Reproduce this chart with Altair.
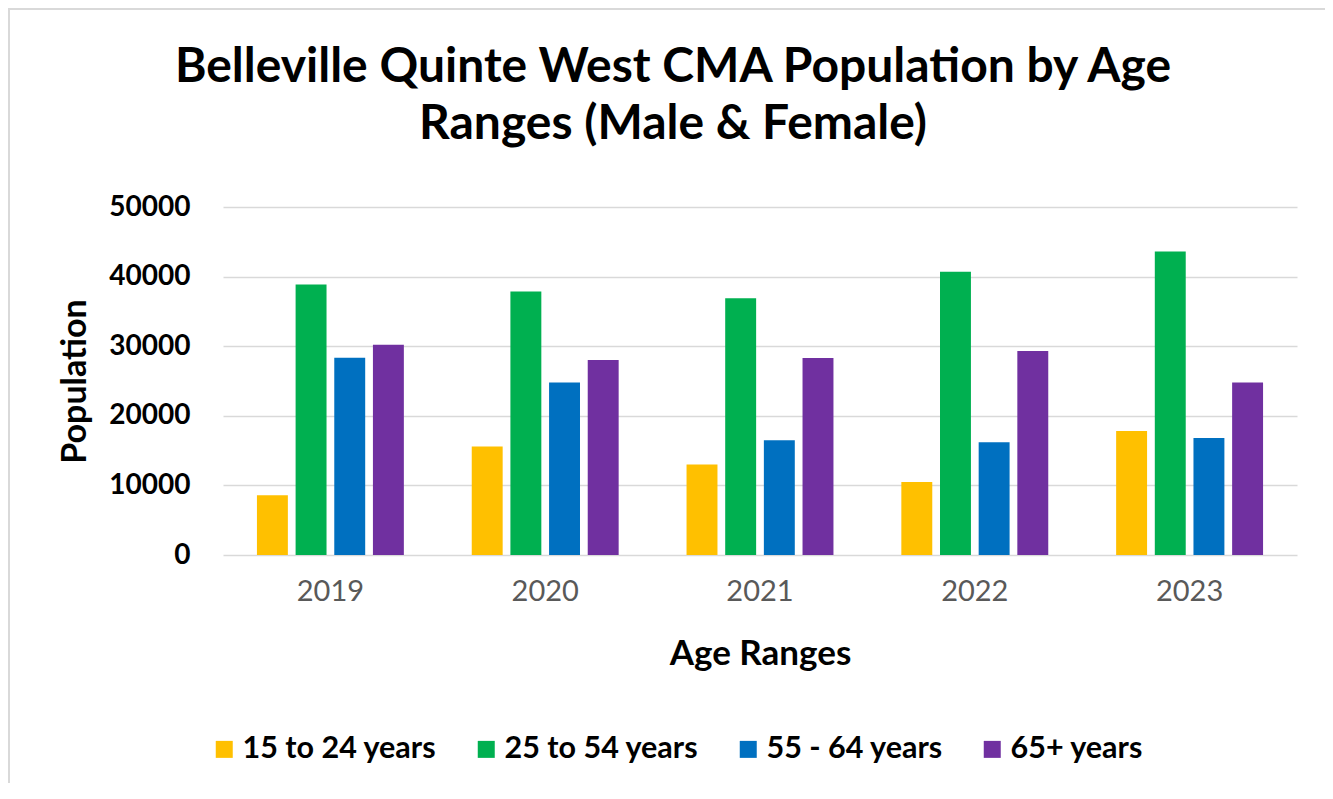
import altair as alt
import pandas as pd

years = ["2019", "2020", "2021", "2022", "2023"]
groups = ["15 to 24 years", "25 to 54 years", "55 - 64 years", "65+ years"]
colors = ["#FFC000", "#00B050", "#0070C0", "#7030A0"]

v_15_24 = [8600, 15600, 13000, 10500, 17800]
v_25_54 = [38850, 37850, 36900, 40700, 43600]
v_55_64 = [28350, 24800, 16500, 16200, 16800]
v_65p = [30200, 28000, 28300, 29300, 24800]

series = [v_15_24, v_25_54, v_55_64, v_65p]
rows = []
for g, vals in zip(groups, series):
    for y, v in zip(years, vals):
        rows.append({"Year": y, "Group": g, "Population": v})
df = pd.DataFrame(rows)

FONT = "Lato"

bars = alt.Chart(df).mark_bar().encode(
    x=alt.X("Year:N", sort=years,
            scale=alt.Scale(paddingInner=0.28, paddingOuter=0.14),
            axis=alt.Axis(title="Age Ranges", labelAngle=0, ticks=False, domain=False,
                          labelFont=FONT, labelFontSize=29, labelColor="#595959",
                          labelFontWeight="normal", labelPadding=22,
                          titleFont=FONT, titleFontSize=35, titleFontWeight="bold",
                          titleColor="#000000", titlePadding=30)),
    xOffset=alt.XOffset("Group:N", sort=groups,
                        scale=alt.Scale(paddingInner=0.2, paddingOuter=0.1)),
    y=alt.Y("Population:Q",
            scale=alt.Scale(domain=[0, 50000]),
            axis=alt.Axis(title="Population", values=[0, 10000, 20000, 30000, 40000, 50000],
                          format="d", ticks=False, domain=False,
                          gridColor="#D9D9D9", gridWidth=1.5,
                          labelFont=FONT, labelFontSize=28, labelFontWeight="bold",
                          labelColor="#000000", labelPadding=33,
                          titleFont=FONT, titleFontSize=34, titleFontWeight="bold",
                          titleColor="#000000", titlePadding=16)),
    color=alt.Color("Group:N", sort=groups,
                    scale=alt.Scale(domain=groups, range=colors),
                    legend=alt.Legend(title=None, orient="none", direction="horizontal",
                                      legendX=-14, legendY=527,
                                      symbolType="square", symbolSize=289,
                                      symbolStrokeWidth=0, labelOffset=3,
                                      columnPadding=34, labelLimit=500,
                                      labelFont=FONT, labelFontSize=30.5,
                                      labelFontWeight="bold", labelColor="#000000")),
)

border = alt.Chart(pd.DataFrame({"k": [0]})).mark_rule(color="#D9D9D9", strokeWidth=2).encode(
    x=alt.value(-214), x2=alt.value(-214), y=alt.value(-198), y2=alt.value(584)
)
border_top = alt.Chart(pd.DataFrame({"k": [0]})).mark_rule(color="#D9D9D9", strokeWidth=2).encode(
    x=alt.value(-215), x2=alt.value(1110), y=alt.value(-198), y2=alt.value(-198)
)

chart = alt.layer(bars, border, border_top).properties(
    width=1074,
    height=348,
    title=alt.TitleParams(
        text=["Belleville Quinte West CMA Population by Age", "Ranges (Male & Female)"],
        font=FONT, fontSize=48, fontWeight="bold", color="#000000",
        lineHeight=57, anchor="middle", frame="group", dx=-87, offset=-141,
    ),
    autosize=alt.AutoSizeParams(type="none"),
    padding={"left": 215, "top": 199, "right": 28, "bottom": 228},
).configure_view(stroke=None)

chart.save("out.html", embed_options={"renderer": "svg", "actions": False})
